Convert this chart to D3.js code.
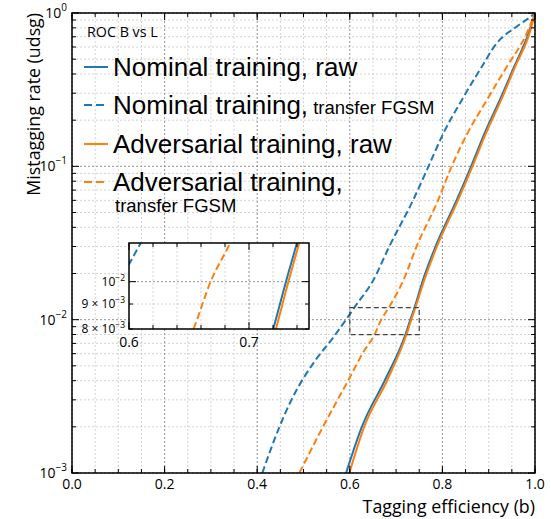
<!DOCTYPE html>
<html>
<head>
<meta charset="utf-8">
<script src="https://cdn.jsdelivr.net/npm/d3@7/dist/d3.min.js"></script>
<style>
  html, body { margin: 0; padding: 0; background: #fff; }
  svg { display: block; }
  text { font-family: "Open Sans", "Noto Sans", sans-serif; fill: #000; }
  .legend text { font-family: "Liberation Sans", Arial, sans-serif; }
</style>
</head>
<body>
<svg id="chart" width="551" height="519"></svg>
<script>
// ROC curves: b-tagging efficiency vs light-jet (udsg) mistag rate
const nominalRawX = [0.592, 0.626, 0.676, 0.7202, 0.7308, 0.7399, 0.758, 0.785, 0.831, 0.862, 0.891, 0.924, 0.955, 0.986, 1.0];
const nominalRawY = [1e-3, 2e-3, 4.04e-3, 8e-3, 1e-2, 1.2e-2, 1.815e-2, 2.99e-2, 6.04e-2, 0.1, 0.164, 0.271, 0.446, 0.736, 1.0];

const nominalFgsmX = [0.411, 0.448, 0.474, 0.525, 0.562, 0.6, 0.6098, 0.651, 0.685, 0.737, 0.770, 0.802, 0.842, 0.885, 0.917, 0.960, 0.995, 1.0];
const nominalFgsmY = [1e-3, 2e-3, 3e-3, 5.4e-3, 7.5e-3, 1.086e-2, 1.2e-2, 1.815e-2, 2.99e-2, 6.04e-2, 0.1, 0.164, 0.271, 0.446, 0.634, 0.814, 0.97, 1.0];

const advRawX = [0.599, 0.631, 0.681, 0.7224, 0.7328, 0.7418, 0.761, 0.788, 0.834, 0.865, 0.894, 0.927, 0.957, 0.988, 1.0];
const advRawY = [1e-3, 2e-3, 4.04e-3, 8e-3, 1e-2, 1.2e-2, 1.815e-2, 2.99e-2, 6.04e-2, 0.1, 0.164, 0.271, 0.446, 0.736, 1.0];

const advFgsmX = [0.491, 0.542, 0.597, 0.630, 0.6537, 0.668, 0.6843, 0.716, 0.744, 0.791, 0.820, 0.854, 0.896, 0.939, 0.982, 1.0];
const advFgsmY = [1e-3, 2e-3, 4.04e-3, 6.2e-3, 8e-3, 1e-2, 1.2e-2, 1.815e-2, 2.99e-2, 6.04e-2, 0.1, 0.164, 0.271, 0.446, 0.736, 1.0];

const seriesNames = ["Nominal training, raw", "Nominal training,", "Adversarial training, raw", "Adversarial training,"];
const seriesSub = ["", "transfer FGSM", "", "transfer FGSM"];
const xTickLabels = ["0.0", "0.2", "0.4", "0.6", "0.8", "1.0"];
const yTickExps = [0, -1, -2, -3];
const insetXTicks = [0.6, 0.7];
const insetYTicks = [1e-2, 9e-3, 8e-3];

const BLUE = "#1f77b4", ORANGE = "#ff7f0e";
const series = [
  { x: nominalRawX, y: nominalRawY, color: BLUE, dash: null },
  { x: nominalFgsmX, y: nominalFgsmY, color: BLUE, dash: "7,3.5" },
  { x: advRawX, y: advRawY, color: ORANGE, dash: null },
  { x: advFgsmX, y: advFgsmY, color: ORANGE, dash: "7,3.5" }
];

const svg = d3.select("#chart");
const M = { left: 72, top: 13, right: 535, bottom: 473 };
const x = d3.scaleLinear().domain([0, 1]).range([M.left, M.right]);
const y = d3.scaleLog().domain([1e-3, 1]).range([M.bottom, M.top]);

const minorX = d3.range(0, 1.0001, 0.05).map(v => +v.toFixed(2));
const majorX = xTickLabels.map(Number);
const minorY = [];
for (let e = -3; e < 0; e++) for (let k = 2; k <= 9; k++) minorY.push(k * Math.pow(10, e));
const majorY = yTickExps.map(e => Math.pow(10, e));

function gridLine(g, x1, y1, x2, y2, major) {
  g.append("line").attr("x1", x1).attr("x2", x2).attr("y1", y1).attr("y2", y2)
    .attr("stroke", major ? "#777" : "#c8c8c8").attr("stroke-width", 0.8).attr("stroke-dasharray", "2,2");
}

// grid
const grid = svg.append("g");
minorX.filter(v => !majorX.some(m => Math.abs(m - v) < 1e-9))
  .forEach(v => gridLine(grid, x(v), M.top, x(v), M.bottom, false));
minorY.forEach(v => gridLine(grid, M.left, y(v), M.right, y(v), false));
majorX.forEach(v => gridLine(grid, x(v), M.top, x(v), M.bottom, true));
majorY.forEach(v => gridLine(grid, M.left, y(v), M.right, y(v), true));

// curves
svg.append("clipPath").attr("id", "mainClip").append("rect")
  .attr("x", M.left).attr("y", M.top).attr("width", M.right - M.left).attr("height", M.bottom - M.top);

function drawCurves(g, xs, ys, clipId, width) {
  const line = d3.line().x(d => xs(d[0])).y(d => ys(d[1])).curve(d3.curveMonotoneX);
  series.forEach(s => {
    const pts = s.x.map((v, i) => [v, s.y[i]]);
    g.append("path").datum(pts).attr("d", line).attr("fill", "none")
      .attr("stroke", s.color).attr("stroke-width", width)
      .attr("stroke-dasharray", s.dash).attr("clip-path", `url(#${clipId})`);
  });
}
drawCurves(svg.append("g"), x, y, "mainClip", 2);

// zoom box
svg.append("rect").attr("x", x(0.6)).attr("y", y(1.2e-2))
  .attr("width", x(0.75) - x(0.6)).attr("height", y(8e-3) - y(1.2e-2))
  .attr("fill", "none").attr("stroke", "#444").attr("stroke-width", 1.2).attr("stroke-dasharray", "5,3");

// frame and inward ticks
function frameTicks(g, xs, ys, x0, x1, y0, y1, xMaj, xMin, yMaj, yMin, majLen, minLen) {
  g.append("rect").attr("x", x0).attr("y", y0).attr("width", x1 - x0).attr("height", y1 - y0)
    .attr("fill", "none").attr("stroke", "#000").attr("stroke-width", 1.5);
  const tk = (x1a, y1a, x2a, y2a) => g.append("line").attr("x1", x1a).attr("y1", y1a)
    .attr("x2", x2a).attr("y2", y2a).attr("stroke", "#000").attr("stroke-width", 1);
  xMaj.forEach(v => { tk(xs(v), y1, xs(v), y1 - majLen); tk(xs(v), y0, xs(v), y0 + majLen); });
  xMin.forEach(v => { tk(xs(v), y1, xs(v), y1 - minLen); tk(xs(v), y0, xs(v), y0 + minLen); });
  yMaj.forEach(v => { tk(x0, ys(v), x0 + majLen, ys(v)); tk(x1, ys(v), x1 - majLen, ys(v)); });
  yMin.forEach(v => { tk(x0, ys(v), x0 + minLen, ys(v)); tk(x1, ys(v), x1 - minLen, ys(v)); });
}
frameTicks(svg.append("g"), x, y, M.left, M.right, M.top, M.bottom, majorX, minorX, majorY, minorY, 7, 4);

// tick labels
xTickLabels.forEach(t => {
  svg.append("text").attr("x", x(+t)).attr("y", 489).attr("text-anchor", "middle")
    .attr("font-size", 14).text(t);
});
yTickExps.forEach(e => {
  const t = svg.append("text").attr("x", 67).attr("y", y(Math.pow(10, e)) + 5)
    .attr("text-anchor", "end").attr("font-size", 14);
  t.append("tspan").text("10");
  t.append("tspan").attr("dy", -7).attr("font-size", 10).text(e === 0 ? "0" : "\u2212" + Math.abs(e));
});

// axis titles
svg.append("text").attr("x", M.right).attr("y", 513).attr("text-anchor", "end")
  .attr("font-size", 17.8).text("Tagging efficiency (b)");
svg.append("text").attr("transform", `translate(40,${M.top}) rotate(-90)`).attr("text-anchor", "end")
  .attr("font-size", 17.8).text("Mistagging rate (udsg)");

// legend
svg.append("text").attr("x", 87).attr("y", 37).attr("font-size", 14.3).text("ROC B vs L");
const leg = svg.append("g").attr("class", "legend");
const legY = [67, 105, 144, 182];
series.forEach((s, i) => {
  leg.append("line").attr("x1", 84).attr("x2", 108).attr("y1", legY[i]).attr("y2", legY[i])
    .attr("stroke", s.color).attr("stroke-width", 2).attr("stroke-dasharray", s.dash ? "8,4" : null);
  const t = leg.append("text").attr("x", 113).attr("y", legY[i] + 8.5).attr("font-size", 26);
  t.append("tspan").text(seriesNames[i]);
  if (seriesSub[i]) {
    if (i === 1) {
      t.append("tspan").attr("font-size", 18.5).text(" " + seriesSub[i]);
    } else {
      leg.append("text").attr("x", 115).attr("y", 211.5).attr("font-size", 18.5).text(seriesSub[i]);
    }
  }
});

// inset
const I = { left: 129, right: 309, top: 243, bottom: 329 };
const xi = d3.scaleLinear().domain([0.6, 0.75]).range([I.left, I.right]);
const yi = d3.scaleLog().domain([8e-3, 1.2e-2]).range([I.bottom, I.top]);
const ins = svg.append("g");
ins.append("rect").attr("x", I.left).attr("y", I.top).attr("width", I.right - I.left)
  .attr("height", I.bottom - I.top).attr("fill", "#fff");
const insMinX = [0.62, 0.64, 0.66, 0.68, 0.72, 0.74];
insMinX.forEach(v => gridLine(ins, xi(v), I.top, xi(v), I.bottom, false));
[9e-3, 8e-3].forEach(v => gridLine(ins, I.left, yi(v), I.right, yi(v), false));
gridLine(ins, xi(0.7), I.top, xi(0.7), I.bottom, true);
gridLine(ins, I.left, yi(1e-2), I.right, yi(1e-2), true);
svg.append("clipPath").attr("id", "insetClip").append("rect")
  .attr("x", I.left).attr("y", I.top).attr("width", I.right - I.left).attr("height", I.bottom - I.top);
drawCurves(ins.append("g"), xi, yi, "insetClip", 2);
frameTicks(ins.append("g"), xi, yi, I.left, I.right, I.top, I.bottom, insetXTicks, insMinX, [1e-2], [9e-3, 8e-3], 7, 4);

insetXTicks.forEach(v => {
  ins.append("text").attr("x", xi(v)).attr("y", 347).attr("text-anchor", "middle")
    .attr("font-size", 14).text(v.toFixed(1));
});
insetYTicks.forEach(v => {
  const t = ins.append("text").attr("x", 125).attr("y", yi(v) + 4).attr("text-anchor", "end").attr("font-size", 12);
  if (v === 1e-2) {
    t.append("tspan").text("10");
    t.append("tspan").attr("dy", -5).attr("font-size", 8.5).text("\u22122");
  } else {
    t.append("tspan").text(Math.round(v * 1000) + " \u00d7 10");
    t.append("tspan").attr("dy", -5).attr("font-size", 8.5).text("\u22123");
  }
});
</script>
</body>
</html>
